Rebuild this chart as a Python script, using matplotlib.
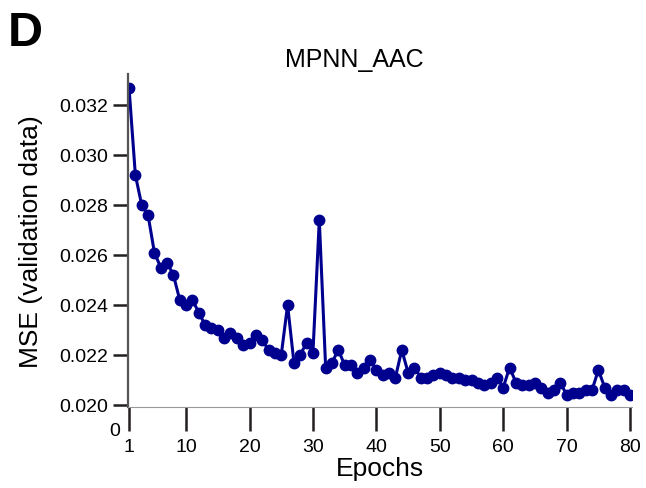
import numpy as np
import matplotlib
matplotlib.use("Agg")
import matplotlib.pyplot as plt

plt.rcParams['font.family'] = ['Liberation Sans', 'DejaVu Sans']

epochs = np.arange(1, 81)
mse = [0.0327, 0.0292, 0.0280, 0.0276, 0.0261, 0.0255, 0.0257, 0.0252, 0.0242, 0.0240,
       0.0242, 0.0237, 0.0232, 0.0231, 0.0230, 0.0227, 0.0229, 0.0227, 0.0224, 0.0225,
       0.0228, 0.0226, 0.0222, 0.0221, 0.0220, 0.0240, 0.0217, 0.0220, 0.0225, 0.0221,
       0.0274, 0.0215, 0.0217, 0.0222, 0.0216, 0.0216, 0.0213, 0.0215, 0.0218, 0.0214,
       0.0212, 0.0213, 0.0211, 0.0222, 0.0213, 0.0215, 0.0211, 0.0211, 0.0212, 0.0213,
       0.0212, 0.0211, 0.0211, 0.0210, 0.0210, 0.0209, 0.0208, 0.0209, 0.0211, 0.0207,
       0.0215, 0.0209, 0.0208, 0.0208, 0.0209, 0.0207, 0.0205, 0.0206, 0.0209, 0.0204,
       0.0205, 0.0205, 0.0206, 0.0206, 0.0214, 0.0207, 0.0204, 0.0206, 0.0206, 0.0204]
xticks = [1, 10, 20, 30, 40, 50, 60, 70, 80]
yticks = [0.020, 0.022, 0.024, 0.026, 0.028, 0.030, 0.032]

fig = plt.figure(figsize=(6.46, 4.89), dpi=100)
ax = fig.add_axes([128/646, 1-408/489, (632-128)/646, (408-75)/489])

ax.plot(epochs, mse, color="#00008f", lw=2.2, marker="o", ms=7.5)

ax.set_xlim(0.84, 80.3)
ax.set_ylim(0.01992, 0.03324)
ax.set_xticks(xticks)
ax.set_yticks(yticks)
ax.set_yticklabels(["%.3f" % v for v in yticks])

ax.spines['top'].set_visible(False)
ax.spines['right'].set_visible(False)
ax.spines['left'].set_color("#555555")
ax.spines['left'].set_linewidth(1.6)
ax.spines['bottom'].set_color("#999999")
ax.spines['bottom'].set_linewidth(0.8)
ax.spines['bottom'].set_linestyle((0, (2, 1)))

ax.tick_params(axis='y', length=11, width=1.8, color="#231f20", labelsize=14, pad=3)
ax.tick_params(axis='x', length=17, width=1.8, color="#231f20", labelsize=14, pad=5)

fig.text(354/646, 1-60/489, "MPNN_AAC", fontsize=18, ha="center", va="center")
ax.set_xlabel("Epochs", fontsize=19, labelpad=1)
ax.set_ylabel("MSE (validation data)", fontsize=19, labelpad=12)

fig.text(115/646, 1-432/489, "0", fontsize=14, ha="center", va="center")
fig.text(8/646, 1-33/489, "D", fontsize=35, fontweight="bold", ha="left", va="center")

fig.savefig("out.png", dpi=100)
